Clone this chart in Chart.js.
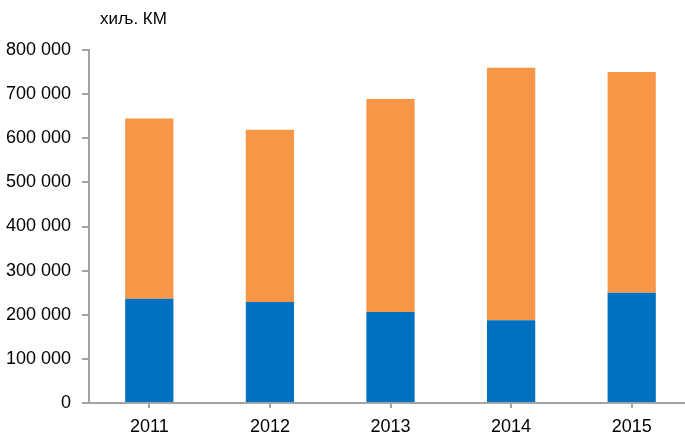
<!DOCTYPE html>
<html>
<head>
<meta charset="utf-8">
<script src="https://cdn.jsdelivr.net/npm/chart.js@4"></script>
<style>
  html, body { margin: 0; padding: 0; background: #fff; overflow: hidden; }
  #wrap { width: 692px; height: 439px; }
</style>
</head>
<body>
<div id="wrap"><canvas id="chart"></canvas></div>
<script>
const years = ['2011', '2012', '2013', '2014', '2015'];
const blueValues = [236500, 229000, 206000, 187500, 250000];
const orangeValues = [408500, 390000, 483000, 572500, 500000];
const unitLabel = 'хиљ. КМ';
const yMax = 800000;
const yStep = 100000;

const axisColor = '#a3a3a3';
const font = { family: '"Liberation Sans", Arial, sans-serif', size: 18 };

function spaced(v) {
  return String(v).replace(/\B(?=(\d{3})+(?!\d))/g, ' ');
}

// unit label above the y axis
const unitPlugin = {
  id: 'unitLabel',
  afterDraw(chart) {
    const c = chart.ctx;
    c.save();
    c.font = '17px "Liberation Sans", Arial, sans-serif';
    c.fillStyle = '#000';
    c.textAlign = 'left';
    c.textBaseline = 'alphabetic';
    c.fillText(unitLabel, chart.chartArea.left + 11, 24);
    c.restore();
  }
};

new Chart(document.getElementById('chart'), {
  type: 'bar',
  data: {
    labels: years,
    datasets: [
      { data: blueValues, backgroundColor: '#0070C0' },
      { data: orangeValues, backgroundColor: '#F79646' }
    ]
  },
  options: {
    responsive: true,
    maintainAspectRatio: false,
    animation: false,
    barPercentage: 0.4,
    categoryPercentage: 1,
    layout: { padding: { top: 50, right: 0, left: 0, bottom: 0 } },
    plugins: { legend: { display: false }, tooltip: { enabled: false } },
    scales: {
      x: {
        stacked: true,
        afterFit(scale) { scale.height = 36; },
        grid: { drawOnChartArea: false, offset: false, tickLength: 5, color: axisColor, lineWidth: 2 },
        border: { color: axisColor, width: 2 },
        ticks: { color: '#000', font: font, padding: 8 }
      },
      y: {
        stacked: true,
        min: 0,
        max: yMax,
        afterFit(scale) { scale.width = 89; },
        grid: { drawOnChartArea: false, tickLength: 7, color: axisColor, lineWidth: 2 },
        border: { color: axisColor, width: 2 },
        ticks: { stepSize: yStep, color: '#000', font: font, padding: 11, callback: v => spaced(v) }
      }
    }
  },
  plugins: [unitPlugin]
});
</script>
</body>
</html>
